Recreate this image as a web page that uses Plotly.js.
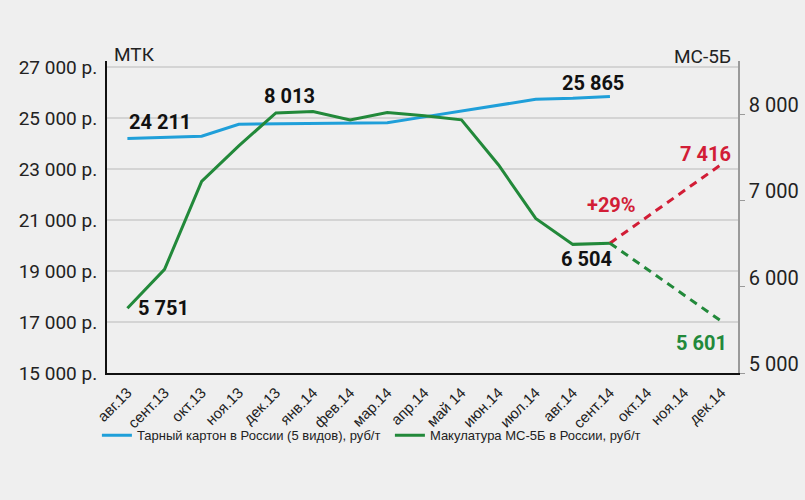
<!DOCTYPE html>
<html>
<head>
<meta charset="utf-8">
<script src="https://cdn.plot.ly/plotly-3.0.1.min.js"></script>
<style>
  body { margin: 0; background: #efefef; }
  #chart { width: 805px; height: 500px; }
</style>
</head>
<body>
<div id="chart"></div>
<script>
// месяцы
var months = ['авг.13', 'сент.13', 'окт.13', 'ноя.13', 'дек.13', 'янв.14', 'фев.14', 'мар.14',
  'апр.14', 'май 14', 'июн.14', 'июл.14', 'авг.14', 'сент.14', 'окт.14', 'ноя.14', 'дек.14'];

// тарный картон, руб/т (левая ось)
var karton = [24211, 24250, 24300, 24770, 24790, 24800, 24810, 24830, 25060, 25290, 25520, 25750, 25790, 25865];
// макулатура МС-5Б, руб/т (правая ось)
var makulatura = [5751, 6200, 7220, 7630, 8013, 8030, 7930, 8016, 7980, 7932, 7410, 6790, 6490, 6504];

// прогноз на дек.14
var forecastMonths = ['сент.14', 'дек.14'];
var forecastUp = [6504, 7416];
var forecastDown = [6504, 5601];

// подписи осей
var leftTicks = [15000, 17000, 19000, 21000, 23000, 25000, 27000];
var leftTickText = ['15 000 р.', '17 000 р.', '19 000 р.', '21 000 р.', '23 000 р.', '25 000 р.', '27 000 р.'];
var rightTicks = [5000, 6000, 7000, 8000];
var rightTickText = ['5 000', '6 000', '7 000', '8 000'];

var blue = '#1f9fd9';
var green = '#22893a';
var red = '#d21d36';

var data = [
  {
    type: 'scatter', mode: 'lines', name: 'Тарный картон в России (5 видов), руб/т',
    x: months.slice(0, karton.length), y: karton,
    line: {color: blue, width: 3}
  },
  {
    type: 'scatter', mode: 'lines', name: 'Макулатура МС-5Б в России, руб/т',
    x: months.slice(0, makulatura.length), y: makulatura, yaxis: 'y2',
    line: {color: green, width: 3}
  },
  {
    type: 'scatter', mode: 'lines', showlegend: false,
    x: forecastMonths, y: forecastUp, yaxis: 'y2',
    line: {color: red, width: 3, dash: '8px,6px'}
  },
  {
    type: 'scatter', mode: 'lines', showlegend: false,
    x: forecastMonths, y: forecastDown, yaxis: 'y2',
    line: {color: green, width: 3, dash: '8px,6px'}
  }
];

function lbl(x, y, yref, text, xs, ys, color) {
  return {
    x: x, y: y, xref: 'x', yref: yref, text: '<b>' + text + '</b>', showarrow: false,
    xshift: xs, yshift: ys,
    font: {family: 'Roboto, Arial, sans-serif', size: 20, color: color || '#111'}
  };
}

var narrow = 'Liberation Sans Narrow, Arial Narrow, sans-serif';

var layout = {
  width: 805, height: 500,
  margin: {l: 107, r: 67, t: 61, b: 127},
  paper_bgcolor: '#efefef', plot_bgcolor: '#efefef',
  showlegend: true,
  legend: {
    orientation: 'h', x: -0.016, xanchor: 'left', y: -0.2, yanchor: 'middle',
    font: {family: narrow, size: 13, color: '#222'},
    entrywidth: 248, bgcolor: 'rgba(0,0,0,0)'
  },
  xaxis: {
    type: 'category', categoryorder: 'array', categoryarray: months,
    range: [-0.55, 16.45],
    tickangle: -45, showgrid: false,
    showline: true, linecolor: '#111', linewidth: 2,
    ticks: '', ticklabelstandoff: 3,
    tickfont: {family: narrow, size: 15, color: '#222'}
  },
  yaxis: {
    range: [15000, 27255], tickvals: leftTicks, ticktext: leftTickText,
    showline: true, linecolor: '#111', linewidth: 2,
    gridcolor: '#d4d4d4', gridwidth: 1.5, zeroline: false,
    ticks: '', ticklabelstandoff: 4,
    tickfont: {family: 'Roboto, Arial, sans-serif', size: 19, color: '#222'}
  },
  yaxis2: {
    overlaying: 'y', side: 'right',
    range: [5000, 8614], tickvals: rightTicks, ticktext: rightTickText,
    showgrid: false, zeroline: false,
    showline: true, linecolor: '#9a9a9a', linewidth: 1.5,
    ticks: 'outside', ticklen: 5, tickcolor: '#9a9a9a', ticklabelshift: -9,
    tickfont: {family: 'Roboto, Arial, sans-serif', size: 20, color: '#222'}
  },
  annotations: [
    {xref: 'paper', yref: 'paper', x: 0.008, y: 1.02, xanchor: 'left', yanchor: 'middle',
     text: 'МТК', showarrow: false, font: {family: 'Roboto, Arial, sans-serif', size: 19, color: '#222'}},
    {xref: 'paper', yref: 'paper', x: 0.992, y: 1.015, xanchor: 'right', yanchor: 'middle',
     text: 'МС-5Б', showarrow: false, font: {family: 'Roboto, Arial, sans-serif', size: 19, color: '#222'}},
    lbl(months[0], karton[0], 'y', '24 211', 33, 17),
    lbl(months[4], makulatura[4], 'y2', '8 013', 14, 17),
    lbl(months[0], makulatura[0], 'y2', '5 751', 36, 0),
    lbl(months[13], karton[13], 'y', '25 865', -17, 13),
    lbl(months[13], makulatura[13], 'y2', '6 504', -23, -16),
    lbl(months[13], forecastUp[0], 'y2', '+29%', 2, 38, red),
    lbl(months[16], forecastUp[1], 'y2', '7 416', -16, 10, red),
    lbl(months[16], forecastDown[1], 'y2', '5 601', -20, -22, green)
  ]
};

Plotly.newPlot('chart', data, layout, {displayModeBar: false});
</script>
</body>
</html>
